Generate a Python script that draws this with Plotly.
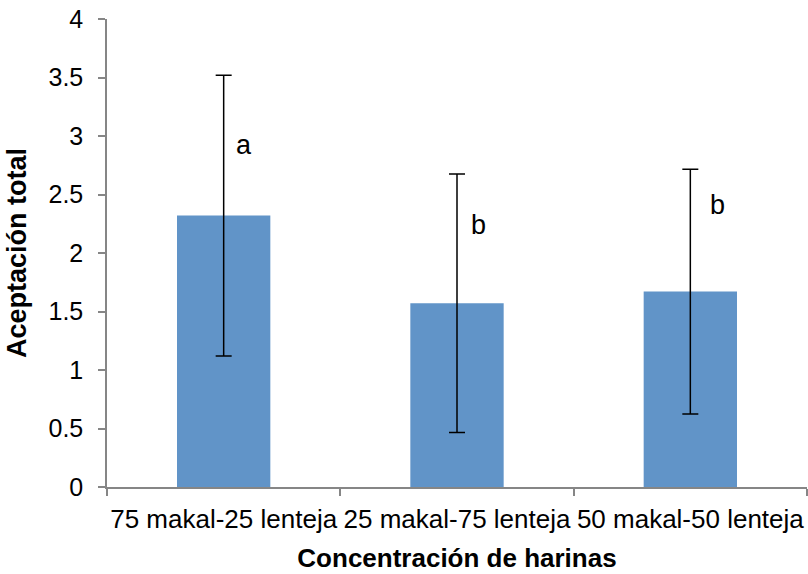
import plotly.graph_objects as go

categories = ["75 makal-25 lenteja", "25 makal-75 lenteja", "50 makal-50 lenteja"]
means = [2.32, 1.57, 1.67]
errors = [1.20, 1.105, 1.045]
letters = ["a", "b", "b"]
letter_y = [2.92, 2.24, 2.41]
letter_shift = [20, 21, 27]
y_ticks = [0, 0.5, 1, 1.5, 2, 2.5, 3, 3.5, 4]

font_family = "Liberation Sans, Arial, sans-serif"

fig = go.Figure()
fig.add_trace(go.Bar(
    x=categories,
    y=means,
    marker=dict(color="#6194C8", line=dict(width=0)),
    error_y=dict(type="data", array=errors, visible=True, color="black", thickness=1.5, width=8),
    width=0.4,
))

for c, l, ly, sh in zip(categories, letters, letter_y, letter_shift):
    fig.add_annotation(x=c, y=ly, text=l, showarrow=False, xref="x", yref="y",
                       xshift=sh, font=dict(size=27, color="black", family=font_family))

fig.update_layout(
    width=808, height=574,
    margin=dict(l=107, r=1, t=19, b=87),
    paper_bgcolor="white", plot_bgcolor="white",
    showlegend=False,
    font=dict(family=font_family, color="black"),
    xaxis=dict(
        type="category", automargin=False, tickangle=0,
        showline=True, linecolor="#868686", linewidth=1.5,
        ticks="outside", tickson="boundaries", ticklen=7, tickcolor="#868686", tickwidth=1.5,
        tickfont=dict(size=26, color="black"),
        ticklabelstandoff=8,
        title=dict(text="<b>Concentración de harinas</b>", font=dict(size=26, color="black"), standoff=16),
        showgrid=False, zeroline=False,
    ),
    yaxis=dict(
        range=[0, 4], tickvals=y_ticks, ticktext=[f"{v:g}" for v in y_ticks],
        automargin=False,
        showline=True, linecolor="#868686", linewidth=1.5,
        ticks="outside", ticklen=7, tickcolor="#868686", tickwidth=1.5,
        tickfont=dict(size=25, color="black"),
        ticklabelstandoff=10,
        title=dict(text="<b>Aceptación total</b>", font=dict(size=27, color="black"), standoff=14),
        showgrid=False, zeroline=False,
    ),
)

fig.write_html("out.html")
